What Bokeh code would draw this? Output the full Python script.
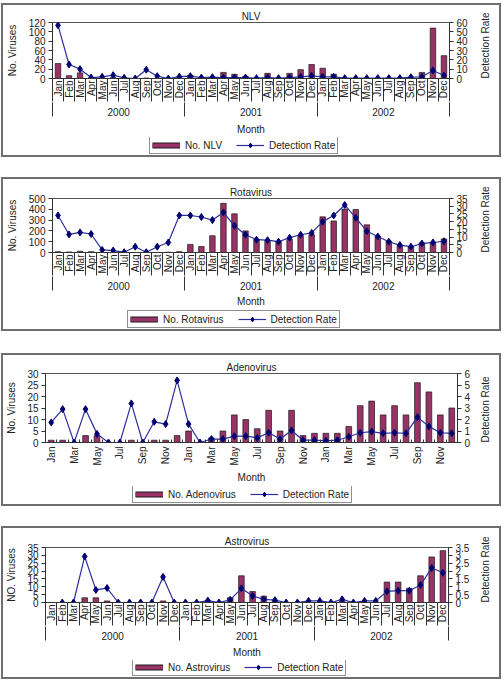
import math
from bokeh.plotting import figure
from bokeh.models import (Range1d, LinearAxis, FixedTicker, Legend, LegendItem,
                          ColumnDataSource)
from bokeh.layouts import column
from bokeh.embed import file_html
from bokeh.resources import INLINE

# ---------------------------------------------------------------- data
months = ["Jan", "Feb", "Mar", "Apr", "May", "Jun",
          "Jul", "Aug", "Sep", "Oct", "Nov", "Dec"]
years = ["2000", "2001", "2002"]
NaN = float("nan")

nlv_counts = [32, 6, 12, 0, 1, 2, 0, 0, 1, 0, 0, 2,
              7, 2, 3, 13, 9, 5, 0, 11, 0, 11, 19, 30,
              22, 9, 0, 0, 0, 0, 0, 0, 1, 13, 108, 49]
nlv_rate = [57, 15, 10, 1, 1.8, 3.6, 0.7, 0, 9.4, 2.5, 0, 2,
            2.5, 1, 1.4, 1, 1, 1, 0.4, 1, 0.4, 1, 1.8, 2.9,
            1.8, 1.8, 0.4, 0.4, 0.4, 0.4, 0.4, 0.4, 1.4, 1.8, 8.6, 3.2]

rota_counts = [8, 5, 12, 8, 0, 0, 0, 0, 0, 0, 3, 8,
               75, 55, 155, 455, 358, 200, 120, 112, 102, 122, 157, 165,
               330, 292, 402, 398, 256, 150, 105, 68, 55, 90, 96, 126]
rota_rate = [24, 11.7, 13, 12, 1.7, 1.25, 0.2, 3.75, 0.2, 3.75, 6.5, 24,
             24, 23, 21, 26, 17.3, 11.5, 8.3, 8, 7, 9.6, 11.5, 12.7,
             20, 24, 30.8, 22.5, 13.8, 10.4, 7, 4.8, 3.75, 5.8, 6.5, 7.3]

adeno_counts = [1, 1, 0, 3, 3, 0, 0, 1, 0, 1, 1, 3,
                5, 0, 2, 5, 12, 10, 6, 14, 5, 14, 3, 4,
                4, 4, 7, 16, 18, 12, 16, 12, 26, 22, 12, 15]
adeno_rate = [1.75, 2.9, 0, 2.9, 0.75, 0, 0, 3.4, 0, 1.8, 1.6, 5.4,
              1.6, 0, 0.3, 0.3, 0.55, 0.55, 0.4, 0.85, 0.3, 1.05, 0.2, 0.2,
              0.15, 0.2, 0.5, 0.85, 0.95, 0.8, 0.85, 0.8, 2.2, 1.4, 0.85, 0.8]

astro_counts = [0, 0, 0, 3, 3, 1, 0, 0, 0, 0, 1, 0,
                0, 0, 1, 0, 3, 17, 7, 4, 1, 0, 0, 0,
                0, 0, 1, 0, 0, 0, 13, 13, 9, 17, 29, 33]
astro_rate = [NaN, 0, 0, 2.93, 0.8, 0.92, 0, 0, 0, 0, 1.63, 0,
              0, 0, 0.12, 0, 0.17, 0.9, 0.42, 0.2, 0.15, 0, 0, 0.1,
              0.1, 0, 0.2, 0, 0.1, 0.1, 0.71, 0.75, 0.75, 1.11, 2.2, 1.89]

nlv_left = [0, 20, 40, 60, 80, 100, 120]
nlv_right = [0, 10, 20, 30, 40, 50, 60]
rota_left = [0, 100, 200, 300, 400, 500]
rota_right = [0, 5, 10, 15, 20, 25, 30, 35]
adeno_left = [0, 5, 10, 15, 20, 25, 30]
adeno_right = [0, 1, 2, 3, 4, 5, 6]
astro_left = [0, 5, 10, 15, 20, 25, 30, 35]
astro_right = [0, 0.5, 1, 1.5, 2, 2.5, 3, 3.5]
astro_right_labels = ["0", "0.5", "1", "1.5", "2", "2.5", "3", "3.5"]

# ---------------------------------------------------------------- style
FONT = "Liberation Sans"
TXT = "#222222"
AX = "#333333"
BAR = "#993366"
LINE = "#2e2e9e"
MARK = "#000070"
FS = "10px"


def style_axis(ax):
    ax.major_label_text_font = FONT
    ax.major_label_text_font_size = FS
    ax.major_label_text_color = TXT
    ax.axis_label_text_font = FONT
    ax.axis_label_text_font_size = FS
    ax.axis_label_text_font_style = "normal"
    ax.axis_label_text_color = TXT
    ax.axis_line_color = AX
    ax.major_tick_line_color = AX
    ax.minor_tick_line_color = AX


def panel(name, counts, rates, left_ticks, right_ticks, right_labels,
          y_label, legend_label, borders, heights, margin, by_year,
          ylab_standoff, rlab_standoff, month_standoff, legend_at):
    n = len(counts)
    centers = [i + 0.5 for i in range(n)]
    bounds = list(range(n + 1))
    src = ColumnDataSource(dict(x=centers, n=counts, r=rates))

    left, right, top, bottom = borders
    main_h, leg_h = heights
    p = figure(width=496, height=main_h, title=name,
               x_range=Range1d(0, n),
               y_range=Range1d(left_ticks[0], left_ticks[-1]),
               output_backend="svg", toolbar_location=None,
               x_axis_location=None,
               min_border_left=left, min_border_right=right,
               min_border_top=top, min_border_bottom=bottom)
    p.background_fill_color = "white"
    p.border_fill_color = "white"
    p.outline_line_color = "#555555"
    p.outline_line_width = 1
    p.grid.visible = False

    p.title.align = "center"
    p.title.text_font = FONT
    p.title.text_font_size = FS
    p.title.text_font_style = "normal"
    p.title.text_color = TXT
    p.title.standoff = 1

    p.extra_y_ranges = {"rate": Range1d(right_ticks[0], right_ticks[-1])}

    # left axis: number of viruses
    ly = p.yaxis[0]
    ly.ticker = FixedTicker(ticks=left_ticks)
    ly.axis_label = y_label
    ly.axis_label_standoff = ylab_standoff
    ly.major_tick_out = 4
    ly.major_tick_in = 0
    ly.minor_tick_out = 0
    ly.major_label_standoff = 3
    style_axis(ly)

    # right axis: detection rate, title reading upwards
    ry = LinearAxis(y_range_name="rate", ticker=FixedTicker(ticks=right_ticks),
                    major_tick_out=4, major_tick_in=0, minor_tick_out=0,
                    major_label_standoff=3,
                    axis_label="Detection Rate", axis_label_standoff=rlab_standoff,
                    axis_label_orientation=math.pi / 2, axis_label_align="start")
    if right_labels is not None:
        ry.major_label_overrides = {t: s for t, s in zip(right_ticks, right_labels)}
    style_axis(ry)
    p.add_layout(ry, "right")

    # category axis
    if by_year:
        mx = LinearAxis(ticker=FixedTicker(ticks=centers, minor_ticks=bounds),
                        major_label_overrides={c: months[i % 12] for i, c in enumerate(centers)},
                        major_label_orientation=math.pi / 2,
                        major_tick_out=0, major_tick_in=0,
                        minor_tick_out=0, minor_tick_in=-23,
                        major_label_standoff=2)
        style_axis(mx)
        mx.major_tick_line_color = None
        p.add_layout(mx, "below")
        yc = [12 * k + 6 for k in range(len(years))]
        yb = [12 * k for k in range(len(years) + 1)]
        yx = LinearAxis(ticker=FixedTicker(ticks=yc, minor_ticks=yb),
                        major_label_overrides={c: y for c, y in zip(yc, years)},
                        major_tick_out=0, major_tick_in=0,
                        minor_tick_out=0, minor_tick_in=-14,
                        major_label_standoff=5,
                        axis_label="Month", axis_label_standoff=month_standoff)
        style_axis(yx)
        yx.axis_line_color = None
        yx.major_tick_line_color = None
        p.add_layout(yx, "below")
    else:
        odd = centers[::2]
        mx = LinearAxis(ticker=FixedTicker(ticks=odd, minor_ticks=bounds),
                        major_label_overrides={c: months[(2 * i) % 12] for i, c in enumerate(odd)},
                        major_label_orientation=math.pi / 2,
                        major_tick_out=0, major_tick_in=0,
                        minor_tick_out=0, minor_tick_in=3,
                        major_label_standoff=4,
                        axis_label="Month", axis_label_standoff=month_standoff)
        style_axis(mx)
        mx.major_tick_line_color = None
        p.add_layout(mx, "below")

    # marks
    p.vbar(x="x", top="n", width=0.5, bottom=0, source=src,
           fill_color=BAR, line_color="#1a1a1a", line_width=0.7)
    p.line(x="x", y="r", source=src, y_range_name="rate",
           line_color=LINE, line_width=1.2)
    p.scatter(x="x", y="r", source=src, y_range_name="rate",
              marker="diamond", size=7, fill_color=MARK, line_color=MARK)

    # legend strip underneath the chart; its key glyphs carry no data points
    lg = figure(width=496, height=leg_h, x_range=Range1d(0, 1), y_range=Range1d(0, 1),
                output_backend="svg", toolbar_location=None,
                x_axis_location=None, y_axis_location=None, min_border=0)
    lg.outline_line_color = None
    lg.grid.visible = False
    blank = dict(x=[NaN], y=[NaN])
    sw_edge = lg.line(x="x", y="y", source=ColumnDataSource(blank),
                      line_color="#1a1a1a", line_width=6)
    sw_fill = lg.line(x="x", y="y", source=ColumnDataSource(blank),
                      line_color=BAR, line_width=4)
    k_line = lg.line(x="x", y="y", source=ColumnDataSource(blank),
                     line_color=LINE, line_width=1.2)
    k_mark = lg.scatter(x="x", y="y", source=ColumnDataSource(blank),
                        marker="diamond", size=7, fill_color=MARK, line_color=MARK)
    leg = Legend(items=[LegendItem(label=legend_label, renderers=[sw_edge, sw_fill]),
                        LegendItem(label="Detection Rate", renderers=[k_line, k_mark])],
                 orientation="horizontal", location=legend_at,
                 glyph_width=28, glyph_height=12, label_height=12,
                 label_standoff=5, spacing=14, padding=2, margin=0,
                 border_line_color=TXT, border_line_width=1,
                 label_text_font=FONT, label_text_font_size=FS,
                 label_text_color=TXT)
    lg.add_layout(leg)

    box = column(p, lg, spacing=0)
    box.margin = margin
    box.styles = {"outline": "2px solid #6e6e6e", "outline-offset": "0px"}
    return box


c1 = panel("NLV", nlv_counts, nlv_rate, nlv_left, nlv_right, None,
           "No. Viruses", "No. NLV", (49, 46, 17, 57), (132, 18), (5, 0, 0, 3), True,
           8, 15, 5, (97, 1))
c2 = panel("Rotavirus", rota_counts, rota_rate, rota_left, rota_right, None,
           "No. Viruses", "No. Rotavirus", (49, 45, 19, 55), (130, 20), (24, 0, 0, 3), True,
           8, 15, 3, (75, 1))
c3 = panel("Adenovirus", adeno_counts, adeno_rate, adeno_left, adeno_right, None,
           "No. Viruses", "No. Adenovirus", (42, 36, 18, 42), (131, 18), (26, 0, 0, 3), False,
           7, 12, 4, (87, 1))
c4 = panel("Astrovirus", astro_counts, astro_rate, astro_left, astro_right,
           astro_right_labels, "NO. Viruses", "No. Astrovirus",
           (42, 44, 19, 58), (132, 17), (24, 0, 0, 3), True,
           7, 13, 4, (87, 1))

layout = column(c1, c2, c3, c4, spacing=0)

open("out.html", "w").write(file_html(layout, INLINE))
